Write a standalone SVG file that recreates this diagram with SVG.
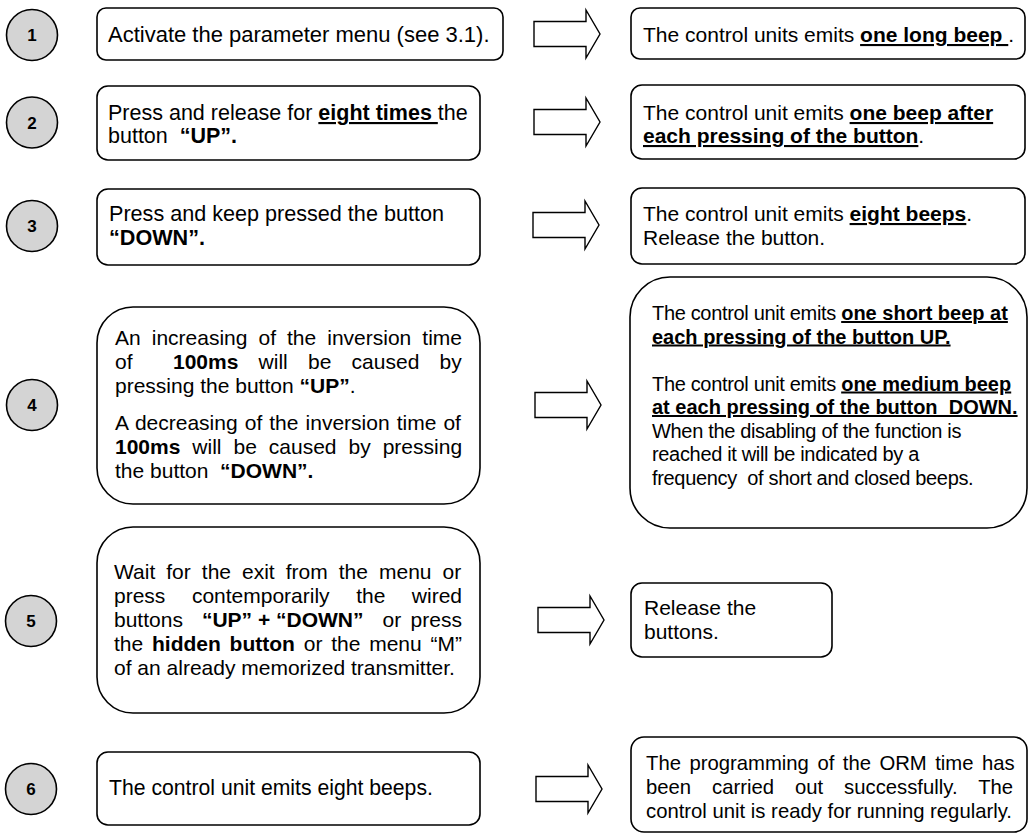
<svg xmlns="http://www.w3.org/2000/svg" width="1029" height="836" viewBox="0 0 1029 836">
  <style>
    text { font-family: "Liberation Sans", Arial, Helvetica, sans-serif; font-size: 21px; fill: #000; }
    .b { font-weight: bold; }
    .u { font-weight: bold; text-decoration: underline; text-decoration-thickness: 2px; }
    .box { fill: #fff; stroke: #000; stroke-width: 1.6; }
    .step { fill: #d4d4d4; stroke: #000; stroke-width: 1.6; }
    .num { font-size: 17px; font-weight: bold; text-anchor: middle; }
    .arrow { fill: #fff; stroke: #000; stroke-width: 1.4; stroke-linejoin: miter; }
    .s20 { font-size: 20px; }
    .s203 { font-size: 20.3px; }
    .cond { letter-spacing: -0.33px; }
  </style>
  <defs>
    <!-- block arrow pointing right, origin at the tail centre -->
    <path id="blockArrow" d="M0,-12.5 H52 V-24 L66,0 L52,24 V12.5 H0 Z"/>
  </defs>

  <rect x="0" y="0" width="1029" height="836" fill="#fff"/>

  <!-- step 1 -->
  <g id="step1-marker">
    <circle class="step" cx="32" cy="35" r="25.5"/>
    <text class="num" x="32" y="41">1</text>
  </g>
  <g id="step1-action">
    <rect class="box" x="97" y="8" width="406" height="52" rx="9"/>
    <text x="108" y="42" style="font-size:22px" xml:space="preserve">Activate the parameter menu (see 3.1).</text>
  </g>
  <g id="step1-result">
    <rect class="box" x="631" y="8" width="394" height="51" rx="9"/>
    <text x="643" y="42" xml:space="preserve">The control units emits <tspan class="u">one long beep </tspan>.</text>
  </g>

  <!-- step 2 -->
  <g id="step2-marker">
    <circle class="step" cx="32" cy="122.5" r="25.5"/>
    <text class="num" x="32" y="128.5">2</text>
  </g>
  <g id="step2-action">
    <rect class="box" x="97" y="86" width="383" height="74" rx="11"/>
    <text x="108" y="120" style="font-size:21.5px" xml:space="preserve">Press and release for <tspan class="u">eight times </tspan>the</text>
    <text x="108" y="143" style="font-size:21.5px" xml:space="preserve">button  <tspan class="b">“UP”.</tspan></text>
  </g>
  <g id="step2-result">
    <rect class="box" x="631" y="85" width="394" height="74" rx="11"/>
    <text x="643" y="120" xml:space="preserve">The control unit emits <tspan class="u">one beep after</tspan></text>
    <text x="643" y="143" xml:space="preserve"><tspan class="u">each pressing of the button</tspan>.</text>
  </g>

  <!-- step 3 -->
  <g id="step3-marker">
    <circle class="step" cx="32" cy="226" r="25.5"/>
    <text class="num" x="32" y="232">3</text>
  </g>
  <g id="step3-action">
    <rect class="box" x="97" y="189" width="383" height="76" rx="11"/>
    <text x="109" y="221" style="font-size:21.6px" xml:space="preserve">Press and keep pressed the button</text>
    <text x="109" y="245" style="font-size:21.6px" xml:space="preserve"><tspan class="b">“DOWN”.</tspan></text>
  </g>
  <g id="step3-result">
    <rect class="box" x="631" y="188" width="394" height="76" rx="11"/>
    <text x="643" y="221" xml:space="preserve">The control unit emits <tspan class="u">eight beeps</tspan>.</text>
    <text x="643" y="245" xml:space="preserve">Release the button.</text>
  </g>

  <!-- step 4 -->
  <g id="step4-marker">
    <circle class="step" cx="32" cy="405" r="25.5"/>
    <text class="num" x="32" y="411">4</text>
  </g>
  <g id="step4-action">
    <rect class="box" x="97" y="307" width="383" height="197" rx="36"/>
    <text x="115" y="345" style="word-spacing:5.2px" xml:space="preserve">An increasing of the inversion time</text>
    <text x="115" y="369" style="word-spacing:14.4px" xml:space="preserve">of  <tspan class="b">100ms</tspan> will be caused by</text>
    <text x="115" y="393" xml:space="preserve">pressing the button <tspan class="b">“UP”</tspan>.</text>
    <text x="115" y="430" style="word-spacing:1.23px" xml:space="preserve">A decreasing of the inversion time of</text>
    <text x="115" y="454" style="word-spacing:6.14px" xml:space="preserve"><tspan class="b">100ms</tspan> will be caused by pressing</text>
    <text x="115" y="478" xml:space="preserve">the button  <tspan class="b">“DOWN”.</tspan></text>
  </g>
  <g id="step4-result">
    <rect class="box" x="630" y="277" width="397" height="251" rx="40"/>
    <text class="s20" x="652" y="320" xml:space="preserve"><tspan class="cond">The control unit emits </tspan><tspan class="u">one short beep at</tspan></text>
    <text class="s20" x="652" y="343.5" xml:space="preserve"><tspan class="u">each pressing of the button UP.</tspan></text>
    <text class="s20" x="652" y="390.5" xml:space="preserve"><tspan class="cond">The control unit emits </tspan><tspan class="u">one medium beep</tspan></text>
    <text class="s20" x="652" y="414" xml:space="preserve"><tspan class="u">at each pressing of the button  DOWN.</tspan></text>
    <text class="s20 cond" x="652" y="437.5" xml:space="preserve">When the disabling of the function is</text>
    <text class="s20 cond" x="652" y="461" xml:space="preserve">reached it will be indicated by a</text>
    <text class="s20 cond" x="652" y="484.5" xml:space="preserve">frequency  of short and closed beeps.</text>
  </g>

  <!-- step 5 -->
  <g id="step5-marker">
    <circle class="step" cx="31" cy="621" r="25.5"/>
    <text class="num" x="31" y="627">5</text>
  </g>
  <g id="step5-action">
    <rect class="box" x="97" y="527" width="383" height="186" rx="36"/>
    <text x="114" y="579" style="word-spacing:5.2px" xml:space="preserve">Wait for the exit from the menu or</text>
    <text x="114" y="603" style="word-spacing:20.7px" xml:space="preserve">press contemporarily the wired</text>
    <text x="114" y="627" style="word-spacing:3.66px" xml:space="preserve">buttons  <tspan class="b" style="word-spacing:0">“UP” + “DOWN”</tspan>  or press</text>
    <text x="114" y="651" style="word-spacing:2.96px" xml:space="preserve">the <tspan class="b">hidden button</tspan> or the menu “M”</text>
    <text x="114" y="675" xml:space="preserve">of an already memorized transmitter.</text>
  </g>
  <g id="step5-result">
    <rect class="box" x="631" y="583" width="201" height="74" rx="11"/>
    <text x="644" y="615" xml:space="preserve">Release the</text>
    <text x="644" y="639" xml:space="preserve">buttons.</text>
  </g>

  <!-- step 6 -->
  <g id="step6-marker">
    <circle class="step" cx="31" cy="789" r="25.5"/>
    <text class="num" x="31" y="795">6</text>
  </g>
  <g id="step6-action">
    <rect class="box" x="97" y="752" width="383" height="73" rx="11"/>
    <text x="109" y="795" style="font-size:21.2px" xml:space="preserve">The control unit emits eight beeps.</text>
  </g>
  <g id="step6-result">
    <rect class="box" x="631" y="737" width="396" height="95" rx="13"/>
    <text class="s203" x="646" y="770" style="word-spacing:2.84px" xml:space="preserve">The programming of the ORM time has</text>
    <text class="s203" x="646" y="794" style="word-spacing:15.3px" xml:space="preserve">been carried out successfully. The</text>
    <text class="s203" x="646" y="818" xml:space="preserve">control unit is ready for running regularly.</text>
  </g>

  <!-- block arrows from each action to its result -->
  <g id="connectors">
    <use href="#blockArrow" class="arrow" x="534" y="34"/>
    <use href="#blockArrow" class="arrow" x="534" y="122"/>
    <use href="#blockArrow" class="arrow" x="533" y="225"/>
    <use href="#blockArrow" class="arrow" x="535" y="405"/>
    <use href="#blockArrow" class="arrow" x="538" y="620"/>
    <use href="#blockArrow" class="arrow" x="536" y="789"/>
  </g>
</svg>
